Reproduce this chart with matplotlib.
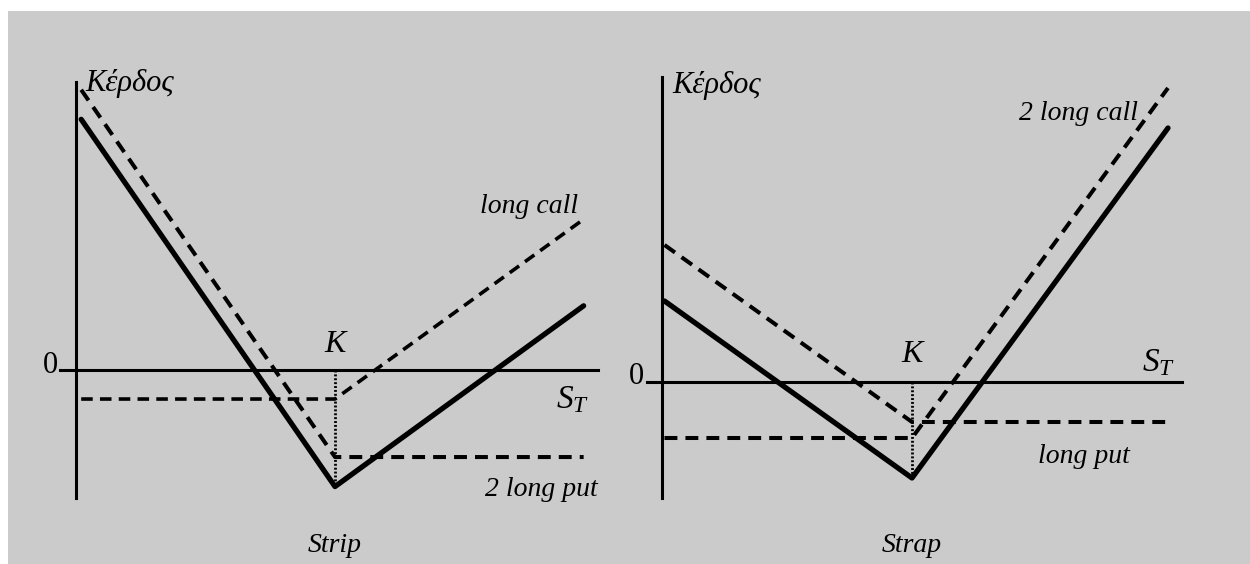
import matplotlib
matplotlib.use("Agg")
import matplotlib.pyplot as plt
from matplotlib.patches import Rectangle

plt.rcParams['font.family'] = ['Liberation Serif', 'DejaVu Serif']
plt.rcParams['mathtext.fontset'] = 'custom'
plt.rcParams['mathtext.it'] = 'Liberation Serif:italic'
plt.rcParams['mathtext.rm'] = 'Liberation Serif'

# strike price (same for both)
K = 50

# Strip = 1 long call + 2 long puts
strip_s = [1, 50, 98]
strip_call = [-5.7, -5.7, 29]
strip_put2 = [54, -16.9, -16.9]
strip_total = [48.3, -22.6, 12.3]

# Strap = 2 long calls + 1 long put
strap_s = [0.5, 50, 101.2]
strap_call2 = [-11.2, -11.2, 58.8]
strap_put = [27.4, -8, -8]
strap_total = [16.2, -19.2, 50.8]

W, H = 1250, 564
BG = '#cbcbcb'

fig = plt.figure(figsize=(W / 100, H / 100), dpi=100)
fig.patch.set_facecolor('white')

# gray panel behind everything
bg = fig.add_axes([0, 0, 1, 1], zorder=-5)
bg.axis('off')
bg.add_patch(Rectangle((8 / W, 0), 1 - 8 / W, 1 - 11 / H, transform=bg.transAxes,
                       facecolor=BG, edgecolor='none'))


def make_axes(px0, px1, x_origin, y_origin, scale):
    # axes box in pixels, data scaled so profit/price share one unit
    py0, py1 = 40, 560
    ax = fig.add_axes([px0 / W, 1 - py1 / H, (px1 - px0) / W, (py1 - py0) / H])
    ax.set_xlim((px0 - x_origin) / scale, (px1 - x_origin) / scale)
    ax.set_ylim((y_origin - py1) / scale, (y_origin - py0) / scale)
    ax.axis('off')
    ax.patch.set_alpha(0)
    return ax


dash = (0, (3.2, 2.0))
dots = (0, (0.7, 0.7))
fs = 20

# ---------------- Strip ----------------
ax = make_axes(20, 620, 76, 369.5, 5.18)
ax.plot([0, 0], [-24.8, 55.5], color='black', lw=2.2)
ax.plot([-3.1, 100.8], [0, 0], color='black', lw=2.2)
ax.plot([K, K], [0, min(strip_total)], color='black', lw=2.0, ls=dots)
ax.plot(strip_s, strip_put2, color='black', lw=2.9, ls=dash)
ax.plot(strip_s, strip_call, color='black', lw=2.6, ls=dash)
ax.plot(strip_s, strip_total, color='black', lw=3.8, solid_capstyle='round',
        solid_joinstyle='round')

ax.text(1.9, 55.3, 'Κέρδος', style='italic', fontsize=fs + 2, ha='left', va='center')
ax.text(-3.4, 0.7, '0', fontsize=fs + 2, ha='right', va='center')
ax.text(K, 4.9, 'K', style='italic', fontsize=fs + 3, ha='center', va='center')
ax.text(95.8, -5.9, r'$S_T$', fontsize=fs + 4, ha='center', va='center')
ax.text(96.9, 30.2, 'long call', style='italic', fontsize=fs, ha='right', va='baseline')
ax.text(100.8, -24.4, '2 long put', style='italic', fontsize=fs, ha='right', va='baseline')
ax.text(K, -34, 'Strip', style='italic', fontsize=fs, ha='center', va='center')

# ---------------- Strap ----------------
ax = make_axes(625, 1245, 662, 382, 5.0)
ax.plot([0, 0], [-23.2, 61], color='black', lw=2.2)
ax.plot([-3, 104], [0, 0], color='black', lw=2.2)
ax.plot([K, K], [0, min(strap_total)], color='black', lw=2.0, ls=dots)
ax.plot(strap_s, strap_put, color='black', lw=2.9, ls=dash)
ax.plot(strap_s, strap_call2, color='black', lw=2.9, ls=dash)
ax.plot(strap_s, strap_total, color='black', lw=3.8, solid_capstyle='round',
        solid_joinstyle='round')

ax.text(2.0, 59.4, 'Κέρδος', style='italic', fontsize=fs + 2, ha='left', va='center')
ax.text(-3.6, 1.0, '0', fontsize=fs + 2, ha='right', va='center')
ax.text(K, 5.6, 'K', style='italic', fontsize=fs + 3, ha='center', va='center')
ax.text(99.4, 3.8, r'$S_T$', fontsize=fs + 4, ha='center', va='center')
ax.text(95.2, 52.4, '2 long call', style='italic', fontsize=fs, ha='right', va='baseline')
ax.text(93.6, -16.2, 'long put', style='italic', fontsize=fs, ha='right', va='baseline')
ax.text(K, -32.6, 'Strap', style='italic', fontsize=fs, ha='center', va='center')

fig.savefig('out.png', dpi=100, facecolor=fig.get_facecolor())
